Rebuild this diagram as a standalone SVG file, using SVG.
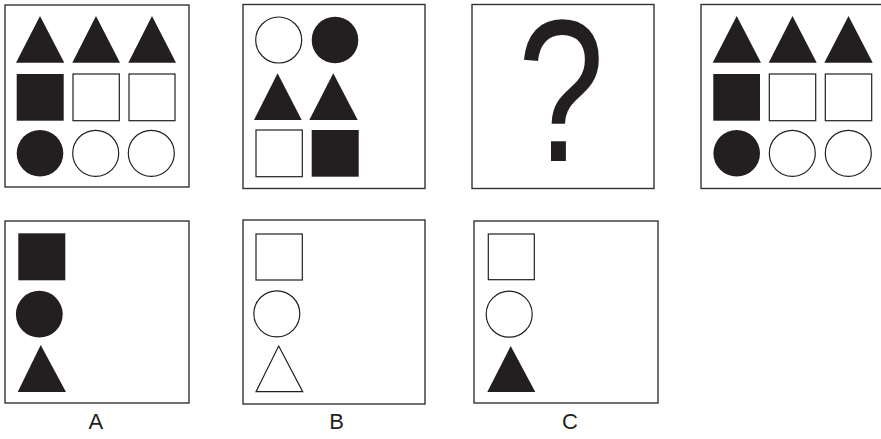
<svg xmlns="http://www.w3.org/2000/svg" width="881" height="439" viewBox="0 0 881 439">
<style>
.frame{fill:#fff;stroke:#333;stroke-width:1.4}
.f{fill:#231f20;stroke:none}
.o{fill:#fff;stroke:#231f20;stroke-width:1.2}
.lbl{font-family:"Liberation Sans",Arial,sans-serif;font-size:22px;fill:#231f20;text-anchor:middle}
.q{font-family:"Liberation Sans",Arial,sans-serif;font-size:177px;fill:#231f20;text-anchor:middle}
</style>
<rect width="881" height="439" fill="#fff"/>
<g id="panel1">
<rect class="frame" x="5" y="5" width="184" height="182"/>
<polygon class="f" points="16,62.7 40,16 64.3,62.7"/>
<polygon class="f" points="72.3,62.7 96,16 120,62.7"/>
<polygon class="f" points="128.3,62.7 152,16 176,62.7"/>
<rect class="f" x="16.7" y="74" width="47" height="46.7"/>
<rect class="o" x="73" y="74" width="46.3" height="46.7"/>
<rect class="o" x="129" y="74" width="46" height="46.7"/>
<circle class="f" cx="40" cy="153.3" r="23.3"/>
<circle class="o" cx="95.7" cy="153.3" r="23"/>
<circle class="o" cx="151.3" cy="153.3" r="23"/>
</g>
<g id="panel2">
<rect class="frame" x="243" y="4.5" width="182" height="184"/>
<circle class="o" cx="278.7" cy="40" r="23"/>
<circle class="f" cx="335" cy="40" r="23.3"/>
<polygon class="f" points="254,120 277.6,73.3 301.7,120"/>
<polygon class="f" points="309.3,120 333.3,73.3 357.7,120"/>
<rect class="o" x="256" y="130" width="46.3" height="46.7"/>
<rect class="f" x="311.7" y="130" width="47" height="46.7"/>
</g>
<g id="panel3">
<rect class="frame" x="472" y="4.5" width="182" height="184"/>
<text class="q" transform="translate(561,161) scale(0.885,1.14)" x="0" y="0">?</text>
</g>
<g id="panel4">
<rect class="frame" x="701" y="4.5" width="184" height="184"/>
<polygon class="f" points="712.7,62.7 736.7,16 761,62.7"/>
<polygon class="f" points="768.7,62.7 792.5,16 816.7,62.7"/>
<polygon class="f" points="824.3,62.7 848.5,16 872.7,62.7"/>
<rect class="f" x="713.3" y="74" width="46.7" height="46.7"/>
<rect class="o" x="769.3" y="74" width="46.4" height="46.7"/>
<rect class="o" x="825.3" y="74" width="46.4" height="46.7"/>
<circle class="f" cx="736.7" cy="153.3" r="23.3"/>
<circle class="o" cx="792.3" cy="153.3" r="23"/>
<circle class="o" cx="848.3" cy="153.3" r="23"/>
</g>
<g id="optionA">
<rect class="frame" x="5" y="221" width="184" height="182"/>
<rect class="f" x="18.3" y="233.3" width="47" height="47"/>
<circle class="f" cx="39.3" cy="314.2" r="23.4"/>
<polygon class="f" points="17.7,392 40.7,345 66,392"/>
<text class="lbl" x="95.8" y="429">A</text>
</g>
<g id="optionB">
<rect class="frame" x="243" y="220" width="182" height="184"/>
<rect class="o" x="256" y="234" width="46.3" height="46"/>
<circle class="o" cx="276.8" cy="313.8" r="23"/>
<polygon class="o" points="256,391.7 278.7,346 302.7,391.7"/>
<text class="lbl" x="336.7" y="429">B</text>
</g>
<g id="optionC">
<rect class="frame" x="474" y="221" width="184" height="182"/>
<rect class="o" x="488.3" y="234" width="46" height="45.7"/>
<circle class="o" cx="509.2" cy="314.2" r="23"/>
<polygon class="f" points="487.3,392 510.7,346 535.3,392"/>
<text class="lbl" x="570" y="429">C</text>
</g>
<g id="connectors"/>
</svg>
